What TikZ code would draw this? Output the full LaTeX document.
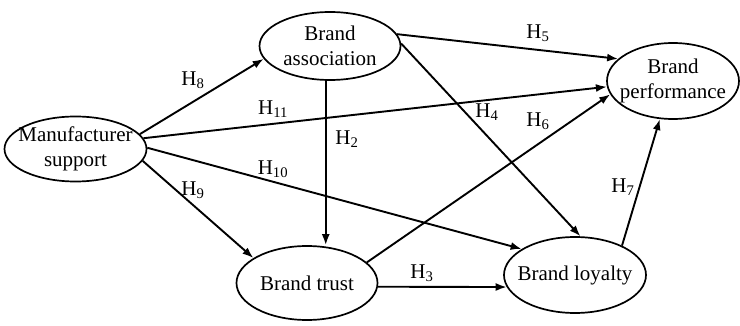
\documentclass[tikz,border=0pt]{standalone}
\usepackage{fontspec}
\setmainfont{Liberation Serif}
\usetikzlibrary{arrows.meta,shapes.geometric}
\begin{document}
\begin{tikzpicture}[x=1pt,y=-1pt,
  construct/.style={ellipse,draw,line width=1.7pt,inner sep=0pt},
  ctext/.style={align=center,inner sep=0pt,font=\fontsize{21}{25}\selectfont},
  link/.style={line width=1.9pt,-{Latex[length=11pt,width=8pt]}},
  hyp/.style={inner sep=0pt,font=\fontsize{21}{25}\selectfont}]
\useasboundingbox (0,0) rectangle (740,326);

% constructs
\node[construct,minimum width=142pt,minimum height=65pt,
  label={[ctext,name=mst]center:Manufacturer\\support}] (ms) at (75.5,149) {};
\node[construct,minimum width=141pt,minimum height=68pt,
  label={[ctext,name=bat]center:Brand\\association}] (ba) at (330,46) {};
\node[construct,minimum width=132pt,minimum height=76pt,
  label={[ctext,name=bpt]center:Brand\\performance}] (bp) at (673,81) {};
\node[construct,minimum width=141pt,minimum height=74pt,
  label={[ctext,name=btt]center:Brand trust}] (bt) at (307,283) {};
\node[construct,minimum width=142pt,minimum height=76pt,
  label={[ctext,name=blt]center:Brand loyalty}] (bl) at (575,275) {};

% hypothesised paths
\draw[link] (ms.13) -- (ba.191.6);
\draw[link] (ms.9.8) -- (bp.185.2);
\draw[link] (ms.1) -- (bl.154.2);
\draw[link] (ms.-10) -- (bt.155.6);
\draw[link] (ba.263) -- (ba.263 |- bt.north);
\draw[link] (ba.10.5) -- (bp.158.4);
\draw[link] (ba.2.4) -- (bl.82.9);
\draw[link] (bt.19.7) -- (bp.192.5);
\draw[link] (bt.-3.7) -- (bl.190.6);
\draw[link] (bl.32.6) -- (bp.251.6);

% hypothesis labels
\node[hyp] (h2) at (347,139) {H\textsubscript{2}};
\node[hyp] (h3) at (422,273) {H\textsubscript{3}};
\node[hyp] (h4) at (487,112) {H\textsubscript{4}};
\node[hyp] (h5) at (538,33) {H\textsubscript{5}};
\node[hyp] (h6) at (538,121) {H\textsubscript{6}};
\node[hyp] (h7) at (623,187) {H\textsubscript{7}};
\node[hyp] (h8) at (193,80) {H\textsubscript{8}};
\node[hyp] (h9) at (193,190) {H\textsubscript{9}};
\node[hyp] (h10) at (273,169) {H\textsubscript{10}};
\node[hyp] (h11) at (273,109) {H\textsubscript{11}};
\end{tikzpicture}
\end{document}
